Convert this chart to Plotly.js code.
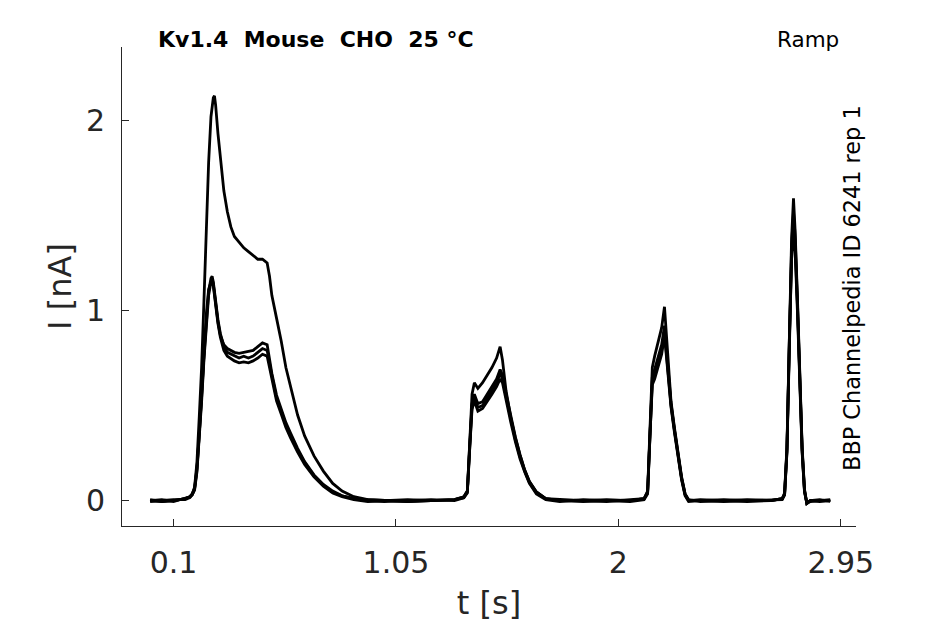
<!DOCTYPE html>
<html>
<head>
<meta charset="utf-8">
<script src="https://cdn.plot.ly/plotly-3.0.1.min.js"></script>
<style>
  html, body { margin: 0; padding: 0; background: white; }
  #chart { width: 945px; height: 624px; }
</style>
</head>
<body>
<div id="chart"></div>
<script>
// time points [s]
var T = [
  0, 0.05, 0.10, 0.15, 0.17, 0.18, 0.19, 0.20, 0.21, 0.22,
  0.23, 0.24, 0.25, 0.26, 0.265, 0.27, 0.275, 0.28, 0.29, 0.30,
  0.315, 0.33, 0.345, 0.36, 0.38, 0.40, 0.42, 0.44, 0.46, 0.48,
  0.50, 0.51, 0.52, 0.54, 0.56, 0.58, 0.60, 0.63, 0.66, 0.70,
  0.74, 0.78, 0.82, 0.87, 0.93, 1.00, 1.10, 1.20, 1.30, 1.34,
  1.355, 1.365, 1.375, 1.385, 1.40, 1.42, 1.44, 1.46, 1.48, 1.495,
  1.505, 1.52, 1.54, 1.56, 1.58, 1.60, 1.62, 1.65, 1.69, 1.75,
  1.85, 1.95, 2.05, 2.11, 2.125, 2.135, 2.145, 2.155, 2.17, 2.185,
  2.197, 2.21, 2.225, 2.24, 2.255, 2.27, 2.285, 2.30, 2.35, 2.45,
  2.55, 2.65, 2.70, 2.71, 2.72, 2.73, 2.74, 2.748, 2.755, 2.765,
  2.775, 2.785, 2.795, 2.805, 2.82, 2.86, 2.905
];

// currents [nA], one array per sweep
var I_HIGH = [
  0.000, -0.005, 0.000, 0.010, 0.020, 0.035, 0.070, 0.200, 0.440, 0.700,
  1.050, 1.420, 1.780, 2.020, 2.090, 2.120, 2.130, 2.080, 1.930, 1.800,
  1.630, 1.520, 1.440, 1.390, 1.360, 1.330, 1.310, 1.290, 1.270, 1.270,
  1.250, 1.180, 1.080, 0.960, 0.840, 0.700, 0.600, 0.450, 0.340, 0.235,
  0.155, 0.090, 0.050, 0.020, 0.005, 0.000, -0.005, 0.000, 0.005, 0.020,
  0.050, 0.300, 0.560, 0.620, 0.590, 0.620, 0.660, 0.700, 0.750, 0.810,
  0.740, 0.580, 0.440, 0.330, 0.240, 0.160, 0.100, 0.045, 0.010, 0.000,
  -0.005, 0.000, 0.000, 0.010, 0.050, 0.400, 0.700, 0.760, 0.830, 0.910,
  1.020, 0.780, 0.520, 0.380, 0.250, 0.125, 0.035, 0.000, 0.000, -0.005,
  0.000, 0.000, 0.010, 0.040, 0.280, 0.920, 1.380, 1.590, 1.420, 1.060,
  0.650, 0.280, 0.060, -0.015, 0.000, -0.005, 0.000
];
var I_LOW1 = [
  0.000, 0.005, -0.005, 0.010, 0.020, 0.030, 0.060, 0.160, 0.340, 0.540,
  0.760, 0.960, 1.100, 1.170, 1.180, 1.150, 1.100, 1.040, 0.950, 0.880,
  0.810, 0.780, 0.770, 0.760, 0.750, 0.760, 0.750, 0.760, 0.780, 0.800,
  0.790, 0.720, 0.660, 0.540, 0.470, 0.400, 0.345, 0.265, 0.200, 0.130,
  0.080, 0.045, 0.025, 0.010, 0.000, -0.005, 0.000, 0.005, 0.000, 0.015,
  0.045, 0.280, 0.500, 0.545, 0.490, 0.500, 0.540, 0.580, 0.620, 0.670,
  0.640, 0.550, 0.430, 0.320, 0.230, 0.155, 0.095, 0.040, 0.010, 0.000,
  0.000, 0.005, 0.000, 0.010, 0.040, 0.360, 0.630, 0.660, 0.720, 0.790,
  0.890, 0.720, 0.500, 0.365, 0.235, 0.115, 0.030, 0.000, 0.005, 0.000,
  0.005, 0.000, 0.010, 0.030, 0.260, 0.850, 1.300, 1.470, 1.350, 1.020,
  0.620, 0.260, 0.050, -0.015, -0.005, 0.000, 0.000
];
var I_LOW2 = [
  -0.005, 0.000, 0.005, 0.005, 0.015, 0.030, 0.055, 0.150, 0.320, 0.520,
  0.740, 0.940, 1.080, 1.150, 1.160, 1.130, 1.080, 1.020, 0.930, 0.860,
  0.790, 0.760, 0.745, 0.735, 0.725, 0.730, 0.725, 0.735, 0.750, 0.770,
  0.760, 0.700, 0.640, 0.525, 0.455, 0.385, 0.330, 0.255, 0.190, 0.125,
  0.075, 0.040, 0.020, 0.005, -0.005, 0.000, 0.005, 0.000, 0.005, 0.015,
  0.040, 0.270, 0.480, 0.525, 0.470, 0.485, 0.520, 0.560, 0.600, 0.640,
  0.620, 0.530, 0.415, 0.310, 0.220, 0.150, 0.090, 0.035, 0.005, -0.005,
  0.005, 0.000, -0.005, 0.005, 0.035, 0.340, 0.610, 0.640, 0.700, 0.770,
  0.870, 0.700, 0.490, 0.355, 0.230, 0.110, 0.025, -0.005, 0.000, 0.005,
  0.000, 0.005, 0.005, 0.030, 0.250, 0.830, 1.270, 1.420, 1.310, 0.990,
  0.600, 0.250, 0.045, -0.012, 0.000, 0.005, -0.005
];
var I_LOW3 = [
  0.005, -0.005, 0.000, 0.010, 0.020, 0.035, 0.065, 0.170, 0.350, 0.560,
  0.780, 0.980, 1.110, 1.160, 1.170, 1.140, 1.090, 1.030, 0.940, 0.870,
  0.820, 0.800, 0.790, 0.780, 0.775, 0.780, 0.785, 0.790, 0.810, 0.830,
  0.820, 0.740, 0.670, 0.555, 0.480, 0.410, 0.355, 0.275, 0.205, 0.135,
  0.085, 0.050, 0.025, 0.010, 0.005, 0.000, -0.005, 0.000, 0.005, 0.020,
  0.050, 0.290, 0.510, 0.560, 0.510, 0.520, 0.560, 0.600, 0.640, 0.690,
  0.660, 0.565, 0.445, 0.335, 0.240, 0.160, 0.100, 0.045, 0.010, 0.005,
  0.000, -0.005, 0.005, 0.010, 0.045, 0.370, 0.650, 0.690, 0.750, 0.820,
  0.920, 0.740, 0.510, 0.370, 0.240, 0.120, 0.035, 0.005, -0.005, 0.000,
  -0.005, 0.000, 0.010, 0.035, 0.270, 0.880, 1.340, 1.520, 1.390, 1.040,
  0.640, 0.270, 0.055, -0.015, 0.000, 0.000, 0.005
];

var SWEEPS = [I_HIGH, I_LOW1, I_LOW2, I_LOW3];

var X_TICKS = [0.1, 1.05, 2, 2.95];
var X_TICK_TEXT = ['0.1', '1.05', '2', '2.95'];
var Y_TICKS = [0, 1, 2];

var data = SWEEPS.map(function (sweep) {
  return {
    type: 'scatter',
    mode: 'lines',
    x: T,
    y: sweep,
    line: { color: 'black', width: 2.8 },
    hoverinfo: 'skip',
    showlegend: false
  };
});

var axisGray = '#262626';

var layout = {
  width: 945,
  height: 624,
  margin: { l: 122, r: 89, t: 47, b: 98 },
  paper_bgcolor: 'white',
  plot_bgcolor: 'white',
  font: { family: 'DejaVu Sans', color: axisGray },
  xaxis: {
    range: [-0.120, 3.015],
    tickvals: X_TICKS, ticktext: X_TICK_TEXT,
    ticks: 'inside', ticklen: 7, tickwidth: 1, tickcolor: axisGray,
    ticklabelstandoff: 10,
    showline: true, linecolor: axisGray, linewidth: 1,
    showgrid: false, zeroline: false,
    tickfont: { size: 30, color: axisGray },
    title: { text: 't [s]', font: { size: 32, color: axisGray }, standoff: 12 }
  },
  yaxis: {
    range: [-0.134, 2.387],
    tickvals: Y_TICKS,
    ticks: 'inside', ticklen: 7, tickwidth: 1, tickcolor: axisGray,
    ticklabelstandoff: 10,
    showline: true, linecolor: axisGray, linewidth: 1,
    showgrid: false, zeroline: false,
    tickfont: { size: 30, color: axisGray },
    title: { text: 'I [nA]', font: { size: 32, color: axisGray }, standoff: 4 }
  },
  annotations: [
    {
      text: '<b>Kv1.4  Mouse  CHO  25 °C</b>',
      xref: 'paper', yref: 'paper', x: 0.047, y: 1.015,
      xanchor: 'left', yanchor: 'middle', showarrow: false,
      font: { size: 22, color: 'black' }
    },
    {
      text: 'Ramp',
      xref: 'paper', yref: 'paper', x: 0.889, y: 1.015,
      xanchor: 'left', yanchor: 'middle', showarrow: false,
      font: { size: 21.5, color: 'black' }
    },
    {
      text: 'BBP Channelpedia ID 6241 rep 1',
      xref: 'paper', yref: 'paper', x: 0.9946, y: 0.497,
      xanchor: 'center', yanchor: 'middle', textangle: -90, showarrow: false,
      font: { size: 22.4, color: 'black' }
    }
  ]
};

Plotly.newPlot('chart', data, layout, { displayModeBar: false, staticPlot: true });
</script>
</body>
</html>
